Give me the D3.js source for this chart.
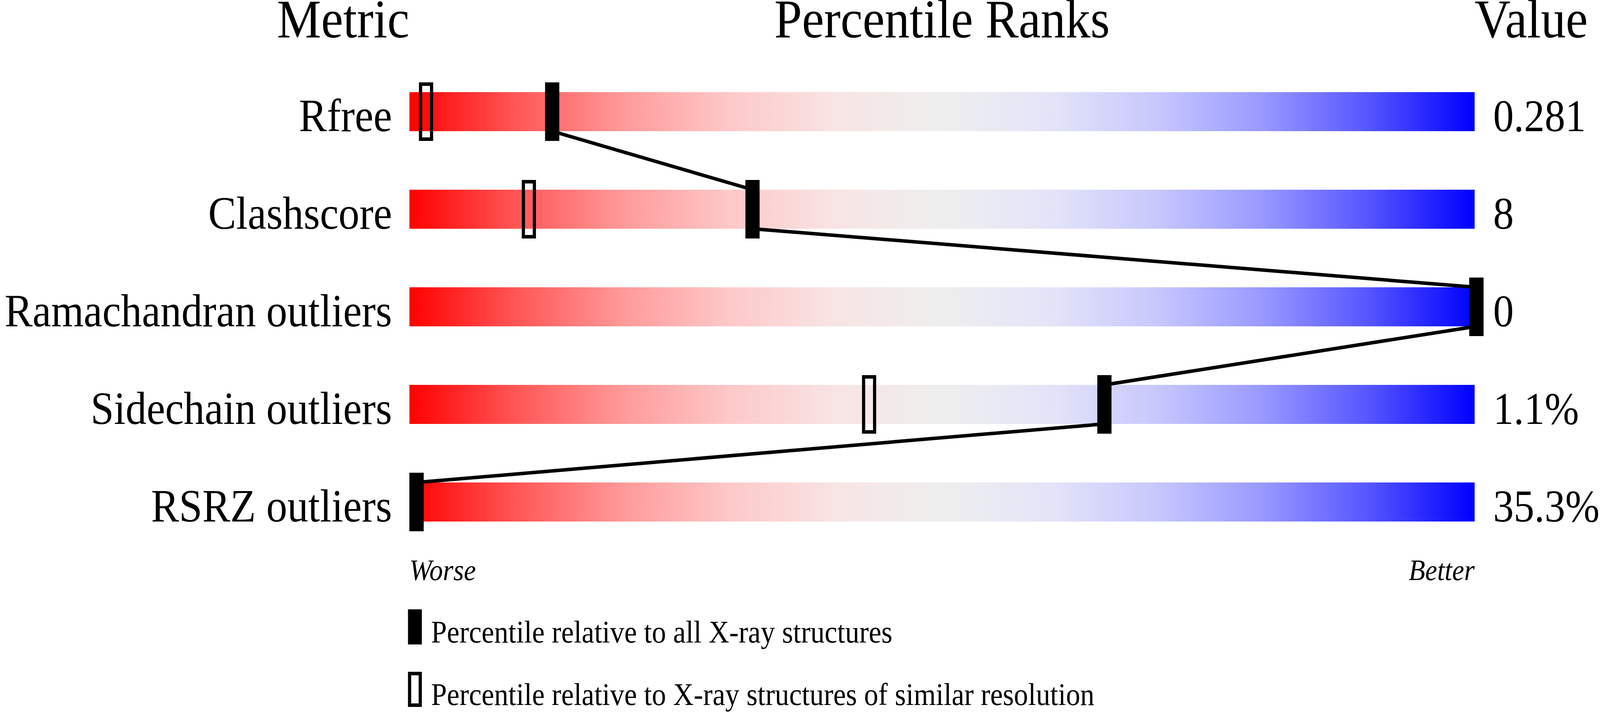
<!DOCTYPE html>
<html>
<head>
<meta charset="utf-8">
<script src="https://cdn.jsdelivr.net/npm/d3@7"></script>
<style>
  html, body { margin: 0; padding: 0; width: 100%; height: 100%; overflow: hidden; background: #fff; }
  #chart { width: 100%; height: 100%; }
  svg { display: block; }
  svg text { font-family: "Liberation Serif", "Times New Roman", serif; fill: #000; }
</style>
</head>
<body>
<div id="chart"></div>
<script>
var width  = 4506;
var height = 1824;

// data
var metrics    = ["Rfree", "Clashscore", "Ramachandran outliers", "Sidechain outliers", "RSRZ outliers"];
var pctAll     = [12.8, 31.7, 100, 64.9, 0];   // relative to all X-ray structures
var pctSimilar = [0.9, 10.6, 100, 42.7, 0];    // relative to similar resolution
var valueText  = ["0.281", "8", "0", "1.1%", "35.3%"];
var headers    = ["Metric", "Percentile Ranks", "Value"];
var legendText = ["Percentile relative to all X-ray structures",
                  "Percentile relative to X-ray structures of similar resolution"];

// gradient stops red -> grey -> blue
var gradOffsets = [0, 0.1, 0.2, 0.3, 0.4, 0.5, 0.6, 0.7, 0.8, 0.9, 1];
var gradColors  = ["#ff0000", "#ff5656", "#ff9999", "#fdc8c8", "#f8e4e4", "#eeeeee",
                   "#e4e4f8", "#c8c8fd", "#9999ff", "#5656ff", "#0000ff"];

var barLeft = 1153, barRight = 4153;
var markW = 40, markH = 150, hollowSW = 9;

// viewBox stretched over the whole window, whatever its real size
var svg = d3.select("#chart").append("svg")
      .attr("viewBox", "0 0 " + width + " " + height)
      .attr("preserveAspectRatio", "none")
      .attr("width", "100%")
      .attr("height", "100%");

var defs = svg.append("defs");
var grad = defs.append("linearGradient")
      .attr("id", "pgrad")
      .attr("x1", "0%").attr("x2", "100%")
      .attr("y1", "0%").attr("y2", "0%");
grad.selectAll("stop")
      .data(gradOffsets)
      .enter().append("stop")
      .attr("offset", function (d) { return d; })
      .attr("stop-color", function (d, i) { return gradColors[i]; });

var y = d3.scaleBand()
      .domain(metrics)
      .range([161, 1411])
      .paddingInner(0.6)
      .paddingOuter(0.3);

var x = d3.scaleLinear()
      .domain([0, 100])
      .range([1173, 4158]);

var bw = y.bandwidth();

// headers
svg.append("text").attr("x", barLeft).attr("y", 96)
      .attr("text-anchor", "end").attr("font-size", 140).text(headers[0]);
svg.append("text").attr("x", (barLeft + barRight) / 2).attr("y", 96)
      .attr("text-anchor", "middle").attr("font-size", 140).text(headers[1]);
svg.append("text").attr("x", barRight).attr("y", 96)
      .attr("text-anchor", "start").attr("font-size", 140).text(headers[2]);

// gradient bars
svg.selectAll("rect.bar")
      .data(metrics)
      .enter().append("rect")
      .attr("class", "bar")
      .attr("x", barLeft)
      .attr("y", function (d) { return y(d); })
      .attr("width", barRight - barLeft)
      .attr("height", bw)
      .style("fill", "url(#pgrad)");

// metric labels
var labels = svg.selectAll("text.label")
      .data(metrics)
      .enter().append("text")
      .attr("class", "label")
      .attr("x", 1104)
      .attr("y", function (d) { return y(d) + bw; })
      .attr("text-anchor", "end")
      .attr("font-size", 118)
      .text(function (d) { return d; });
labels.each(function () {
  var len = this.getComputedTextLength();
  if (len > 1100) {
    d3.select(this).attr("textLength", 1100).attr("lengthAdjust", "spacingAndGlyphs");
  }
});

// values
svg.selectAll("text.value")
      .data(metrics)
      .enter().append("text")
      .attr("class", "value")
      .attr("x", 4205)
      .attr("y", function (d) { return y(d) + bw; })
      .attr("font-size", 116)
      .text(function (d, i) { return valueText[i]; });

// connecting line
var pts = [];
metrics.forEach(function (m, i) {
  pts.push([x(pctAll[i]), y(m)]);
  pts.push([x(pctAll[i]), y(m) + bw]);
});
svg.append("path")
      .attr("d", d3.line()(pts))
      .attr("fill", "none")
      .attr("stroke", "#000")
      .attr("stroke-width", 9);

// similar resolution markers (hollow)
svg.selectAll("rect.hollow")
      .data(metrics)
      .enter().append("rect")
      .attr("class", "hollow")
      .attr("x", function (d, i) { return x(pctSimilar[i]) - (markW - hollowSW) / 2; })
      .attr("y", function (d) { return y(d) + bw / 2 - (markH - hollowSW) / 2; })
      .attr("width", markW - hollowSW)
      .attr("height", markH - hollowSW)
      .attr("fill", "none")
      .attr("stroke", "#000")
      .attr("stroke-width", hollowSW);

// all structures markers (filled)
svg.selectAll("rect.filled")
      .data(metrics)
      .enter().append("rect")
      .attr("class", "filled")
      .attr("x", function (d, i) { return x(pctAll[i]) - markW / 2; })
      .attr("y", function (d) { return y(d) + bw / 2 - markH / 2; })
      .attr("width", markW)
      .attr("height", markH)
      .attr("fill", "#000");

// worse / better
svg.append("text").attr("x", barLeft).attr("y", 1486)
      .attr("font-size", 76).attr("font-style", "italic").text("Worse");
svg.append("text").attr("x", barRight).attr("y", 1486)
      .attr("text-anchor", "end")
      .attr("font-size", 76).attr("font-style", "italic").text("Better");

// legend
var legY = [1561, 1721];
svg.append("rect")
      .attr("x", 1149).attr("y", legY[0])
      .attr("width", 39).attr("height", 90)
      .attr("fill", "#000");
svg.append("rect")
      .attr("x", 1149 + hollowSW / 2).attr("y", legY[1] + hollowSW / 2)
      .attr("width", 39 - hollowSW).attr("height", 90 - hollowSW)
      .attr("fill", "none").attr("stroke", "#000").attr("stroke-width", hollowSW);
svg.selectAll("text.legend")
      .data(legendText)
      .enter().append("text")
      .attr("class", "legend")
      .attr("x", 1214)
      .attr("y", function (d, i) { return legY[i] + 85; })
      .attr("font-size", 80)
      .text(function (d) { return d; });
</script>
</body>
</html>
